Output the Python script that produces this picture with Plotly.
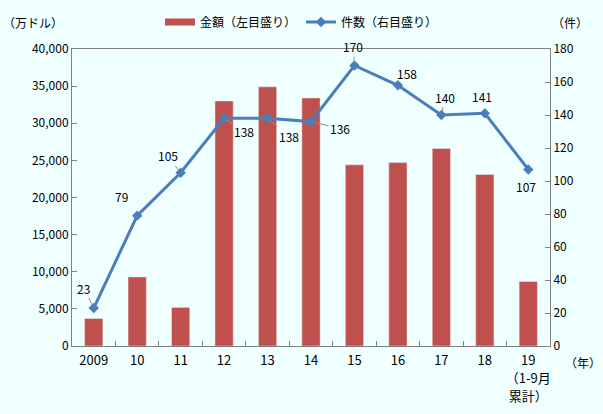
import plotly.graph_objects as go

years = ["2009", "10", "11", "12", "13", "14", "15", "16", "17", "18", "19"]
tick_labels = ["2009", "10", "11", "12", "13", "14", "15", "16", "17", "18", "19<br>（1-9月<br>累計）"]
amount = [3700, 9300, 5200, 33000, 34900, 33400, 24400, 24700, 26600, 23100, 8700]
counts = [23, 79, 105, 138, 138, 136, 170, 158, 140, 141, 107]
# label offsets (px) for data labels
label_dx = [-10, -16, -13, 20, 21, 29, -1, 9, 4, -3, -2]
label_dy = [-20, -19, -17, 13, 18, 7, -19, -12, -18, -17, 17]
label_arrow = [True, False, True, True, True, True, True, False, True, False, False]

BG = "#F0FFFF"
FONT = "Noto Sans CJK JP"
AXC = "#808080"
RED = "#C0504D"
BLUE = "#4A7EBB"

L, R, T, B = 72, 53, 49, 68
W, H = 603, 414
PW, PH = W - L - R, H - T - B


def px_x(px):
    return (px - L) / PW


def px_y(py):
    return (H - B - py) / PH


fig = go.Figure()
fig.add_trace(go.Bar(
    x=years, y=amount, name="金額（左目盛り）",
    marker=dict(color=RED), yaxis="y", showlegend=False,
))
# legend proxy for bars (wide rectangle)
fig.add_trace(go.Scatter(
    x=[None], y=[None], name="金額（左目盛り）", mode="lines",
    line=dict(color=RED, width=7), yaxis="y",
))
fig.add_trace(go.Scatter(
    x=years, y=counts, name="件数（右目盛り）", yaxis="y2",
    mode="lines+markers",
    line=dict(color=BLUE, width=3),
    marker=dict(symbol="diamond", size=8, color=BLUE),
))

for i, c in enumerate(counts):
    if label_arrow[i]:
        fig.add_annotation(x=i, y=c, xref="x", yref="y2", text=str(c),
                           showarrow=True, arrowhead=0, arrowwidth=1, arrowcolor="#909090",
                           ax=label_dx[i], ay=label_dy[i], standoff=3,
                           font=dict(family=FONT, size=12, color="black"))
    else:
        fig.add_annotation(x=i, y=c, xref="x", yref="y2", text=str(c),
                           showarrow=False, xshift=label_dx[i], yshift=-label_dy[i],
                           font=dict(family=FONT, size=12, color="black"))

for text, px, py in [("（万ドル）", 33, 22), ("（件）", 570, 22), ("（年）", 583, 362)]:
    fig.add_annotation(x=px_x(px), y=px_y(py), xref="paper", yref="paper", text=text,
                       xanchor="center", yanchor="middle",
                       showarrow=False, font=dict(family=FONT, size=12, color="black"))

tick_text_html = ["<br>".join('<span style="font-size:13px">%s</span>' % part
                              for part in t.split("<br>")) for t in tick_labels]

fig.update_layout(
    width=W, height=H,
    paper_bgcolor=BG, plot_bgcolor=BG,
    margin=dict(l=L, r=R, t=T, b=B, autoexpand=False),
    font=dict(family=FONT, size=12, color="black"),
    bargap=0.58,
    showlegend=True,
    legend=dict(orientation="h", x=0.5, xanchor="center", xref="container",
                y=1 - 22 / H, yanchor="middle", yref="container",
                bgcolor="rgba(0,0,0,0)", font=dict(size=12)),
    xaxis=dict(type="category", range=[-0.5, 10.5], tickvals=years, ticktext=tick_text_html,
               tickangle=0, automargin=False, tickfont=dict(size=14), ticklabelstandoff=1,
               showline=True, linecolor=AXC, linewidth=1, mirror=True,
               ticks="inside", tickson="boundaries", ticklen=5, tickcolor=AXC,
               showgrid=False),
    yaxis=dict(range=[0, 40000], dtick=5000, tickformat=",", showgrid=False, automargin=False,
               showline=True, linecolor=AXC, linewidth=1, ticks="inside", ticklen=5,
               tickcolor=AXC, zeroline=False),
    yaxis2=dict(range=[0, 180], dtick=20, overlaying="y", side="right", showgrid=False,
                automargin=False,
                showline=True, linecolor=AXC, linewidth=1, ticks="inside", ticklen=5,
                tickcolor=AXC, zeroline=False),
)

fig.write_html("out.html", config={"displayModeBar": False},
               post_script="document.body.style.margin='0';document.body.style.background='%s';" % BG)
